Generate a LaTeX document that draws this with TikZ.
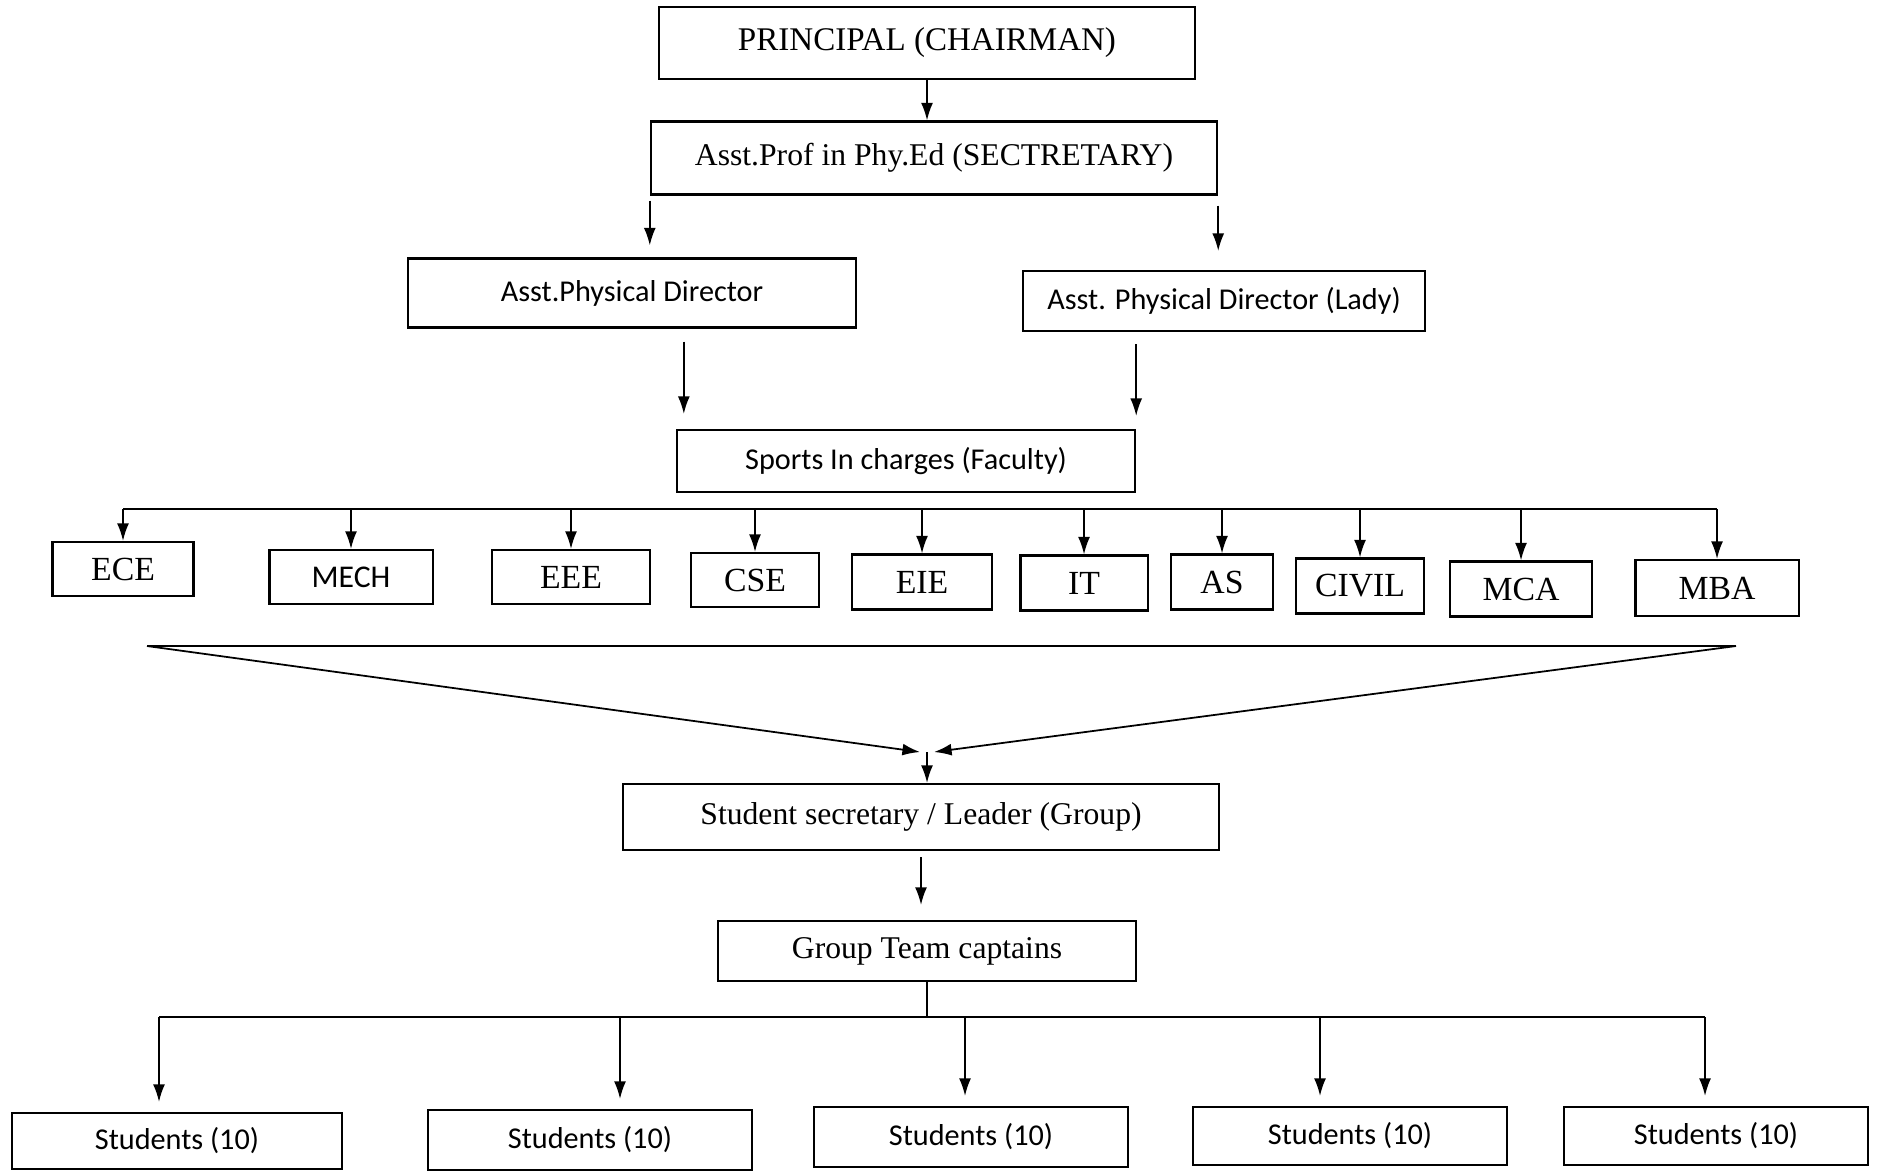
\documentclass[tikz,border=0pt]{standalone}
\usepackage{fontspec}
\setmainfont{Liberation Serif}
\newfontfamily\calibri{Carlito}
\usetikzlibrary{arrows.meta}

\tikzset{
	box/.style={draw, line width=0.6pt, inner sep=0pt, font=\fontsize{9}{11}\selectfont},
	cbox/.style={box, font=\calibri\fontsize{8.6}{11}\selectfont},
	dept/.style={box, font=\fontsize{9.6}{11}\selectfont},
	arr/.style={-{Latex[length=5pt,width=3.4pt]}, line width=0.5pt},
}

\begin{document}
\begin{tikzpicture}[x=0.01cm,y=-0.01cm]
	\useasboundingbox (0,0) rectangle (1880,1172);

	\node[box, minimum width=5.35cm, minimum height=0.72cm, font=\fontsize{9.4}{11}\selectfont](principal) at (927,43) {PRINCIPAL (CHAIRMAN)};
	\node[box, minimum width=5.66cm, minimum height=0.73cm](secretary) at (934,158) {Asst.Prof in Phy.Ed (SECTRETARY)};
	\node[cbox, minimum width=4.47cm, minimum height=0.69cm](apd) at (632,293) {Asst.Physical Director};
	\node[cbox, minimum width=4.01cm, minimum height=0.60cm](apdlady) at (1224,301) {Asst. Physical Director (Lady)};
	\node[cbox, minimum width=4.58cm, minimum height=0.62cm](sports) at (906,461) {Sports In charges (Faculty)};

	% departments
	\node[dept, minimum width=1.41cm, minimum height=0.54cm](ece) at (123,569) {ECE};
	\node[dept, minimum width=1.63cm, minimum height=0.54cm, font=\calibri\fontsize{9}{11}\selectfont](mech) at (351,577) {MECH};
	\node[dept, minimum width=1.58cm, minimum height=0.54cm](eee) at (571,577) {EEE};
	\node[dept, minimum width=1.28cm, minimum height=0.54cm](cse) at (755,580) {CSE};
	\node[dept, minimum width=1.40cm, minimum height=0.55cm](eie) at (922,582) {EIE};
	\node[dept, minimum width=1.27cm, minimum height=0.55cm](it) at (1084,583) {IT};
	\node[dept, minimum width=1.02cm, minimum height=0.55cm](as) at (1222,582) {AS};
	\node[dept, minimum width=1.28cm, minimum height=0.55cm](civil) at (1360,586) {CIVIL};
	\node[dept, minimum width=1.42cm, minimum height=0.55cm](mca) at (1521,589) {MCA};
	\node[dept, minimum width=1.63cm, minimum height=0.56cm](mba) at (1717,588) {MBA};

	\node[box, minimum width=5.95cm, minimum height=0.66cm](studsec) at (921,817) {Student secretary / Leader (Group)};
	\node[box, minimum width=4.17cm, minimum height=0.60cm](captains) at (927,951) {Group Team captains};

	% student groups
	\node[cbox, minimum width=3.29cm, minimum height=0.56cm](s1) at (177,1141) {Students (10)};
	\node[cbox, minimum width=3.23cm, minimum height=0.60cm](s2) at (590,1140) {Students (10)};
	\node[cbox, minimum width=3.14cm, minimum height=0.60cm](s3) at (971,1137) {Students (10)};
	\node[cbox, minimum width=3.13cm, minimum height=0.58cm](s4) at (1350,1136) {Students (10)};
	\node[cbox, minimum width=3.04cm, minimum height=0.58cm](s5) at (1716,1136) {Students (10)};

	\coordinate (bus) at ([yshift=-0.16cm]sports.south);
	\coordinate (fl) at (147,646);
	\coordinate (fr) at (1736,646);
	\coordinate (meet) at (927,752);
	\coordinate (bus2) at ([yshift=-0.35cm]captains.south);

	\draw[arr] (principal.south) -- (principal.south |- secretary.north);
	\draw[arr, shorten <=0.5mm, shorten >=1.2mm] (secretary.south west) -- (secretary.south west |- apd.north);
	\draw[arr, shorten <=1mm, shorten >=1.9mm] (secretary.south east) -- (secretary.south east |- apdlady.north);
	\draw[arr, shorten <=1.3mm, shorten >=1.5mm] ([xshift=0.08cm]sports.north west |- apd.south) -- ([xshift=0.08cm]sports.north west);
	\draw[arr, shorten <=1.2mm, shorten >=1.3mm] (sports.north east |- apdlady.south) -- (sports.north east);

	\draw[line width=0.6pt] (ece.north |- bus) -- (mba.north |- bus);
	\foreach \d in {ece,mech,eee,cse,eie,it,as,civil,mca,mba}
		\draw[arr] (\d.north |- bus) -- (\d.north);

	\draw[line width=0.6pt] (fl) -- (fr);
	\draw[arr] (fl) -- ([xshift=-0.07cm]meet);
	\draw[arr] (fr) -- ([xshift=0.07cm]meet);
	\draw[arr] (meet) -- (meet |- studsec.north);

	\draw[arr, shorten <=0.6mm, shorten >=1.5mm] (studsec.south) -- (studsec.south |- captains.north);

	\draw[line width=0.6pt] (captains.south) -- (bus2);
	\draw[line width=0.6pt] (159,0 |- bus2) -- (1705,0 |- bus2);
	\foreach \s/\x in {s1/159,s2/620,s3/965,s4/1320,s5/1705}
		\draw[arr, shorten >=1mm] (\x,0 |- bus2) -- (\x,0 |- \s.north);
\end{tikzpicture}
\end{document}
